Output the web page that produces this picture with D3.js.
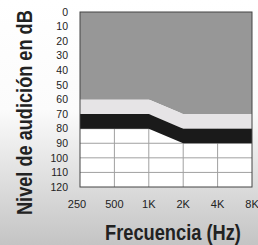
<!DOCTYPE html>
<html>
<head>
<meta charset="utf-8">
<script src="https://cdn.jsdelivr.net/npm/d3@7"></script>
<style>
  body { margin: 0; padding: 0; }
  svg { display: block; }
</style>
</head>
<body>
<script>
// audiogram bands
var freqs = ["250", "500", "1K", "2K", "4K", "8K"];
var dbTicks = [0, 10, 20, 30, 40, 50, 60, 70, 80, 90, 100, 110, 120];
var lightTop = [60, 60, 60, 70, 70, 70];
var blackTop = [70, 70, 70, 80, 80, 80];
var blackBottom = [80, 80, 80, 90, 90, 90];

var w = 258, h = 245;

var svg = d3.select("body").append("svg")
            .attr("width", w)
            .attr("height", h);

var grad = svg.append("defs").append("linearGradient")
              .attr("id", "bg")
              .attr("x1", 0).attr("y1", 0)
              .attr("x2", 0).attr("y2", 1);
grad.append("stop").attr("offset", "0%").attr("stop-color", "#ffffff");
grad.append("stop").attr("offset", "45%").attr("stop-color", "#fbfbfb");
grad.append("stop").attr("offset", "100%").attr("stop-color", "#c4c4c4");

svg.append("rect")
   .attr("width", w).attr("height", h)
   .attr("fill", "url(#bg)");

var x = d3.scalePoint().domain(freqs).range([80, 252]);
var y = d3.scaleLinear().domain([0, 120]).range([12, 187]);

var pts = freqs.map(function(f, i) { return i; });

// white plot background
svg.append("rect")
   .attr("x", x("250")).attr("y", y(0))
   .attr("width", x("8K") - x("250"))
   .attr("height", y(120) - y(0))
   .attr("fill", "#ffffff");

// grid
svg.append("g").selectAll("line.v")
   .data(freqs.slice(1, -1))
   .enter().append("line")
   .attr("x1", function(d) { return x(d); })
   .attr("x2", function(d) { return x(d); })
   .attr("y1", y(0)).attr("y2", y(120))
   .attr("stroke", "#a0a0a0").attr("stroke-width", 1);

svg.append("g").selectAll("line.h")
   .data(dbTicks.slice(1, -1))
   .enter().append("line")
   .attr("x1", x("250")).attr("x2", x("8K"))
   .attr("y1", function(d) { return y(d); })
   .attr("y2", function(d) { return y(d); })
   .attr("stroke", "#a0a0a0").attr("stroke-width", 1);

function band(top, bottom, color) {
  var area = d3.area()
      .x(function(i) { return x(freqs[i]); })
      .y0(function(i) { return y(bottom[i]); })
      .y1(function(i) { return y(top[i]); });
  svg.append("path")
     .datum(pts)
     .attr("d", area)
     .attr("fill", color);
}

var zeros = freqs.map(function() { return 0; });
band(zeros, lightTop, "#979797");
band(lightTop, blackTop, "#e6e4e6");
band(blackTop, blackBottom, "#1a1a1a");

// border
svg.append("rect")
   .attr("x", x("250")).attr("y", y(0))
   .attr("width", x("8K") - x("250"))
   .attr("height", y(120) - y(0))
   .attr("fill", "none")
   .attr("stroke", "#444").attr("stroke-width", 1);

// tick labels
svg.append("g").selectAll("text")
   .data(dbTicks)
   .enter().append("text")
   .attr("x", 68)
   .attr("y", function(d) { return y(d); })
   .attr("dy", "0.35em")
   .attr("text-anchor", "end")
   .attr("font-family", "Liberation Sans, Arial, sans-serif")
   .attr("font-size", 10.5)
   .attr("fill", "#222")
   .text(function(d) { return d; });

svg.append("g").selectAll("text")
   .data(freqs)
   .enter().append("text")
   .attr("x", function(d) { return x(d) - (d == "250" ? 3 : 0); })
   .attr("y", 208)
   .attr("text-anchor", "middle")
   .attr("font-family", "Liberation Sans, Arial, sans-serif")
   .attr("font-size", 11)
   .attr("fill", "#222")
   .text(function(d) { return d; });

// titles, squeezed to look condensed
function title(txt, len, place) {
  var t = svg.append("text")
     .attr("font-family", "Liberation Sans, Arial, sans-serif")
     .attr("font-weight", "bold")
     .attr("font-size", 22)
     .attr("fill", "#222")
     .text(txt);
  var k = len / t.node().getComputedTextLength();
  t.attr("transform", place + " scale(" + k + ",1)");
}

title("Frecuencia (Hz)", 136, "translate(105,240)");
title("Nivel de audición en dB", 205, "translate(32,215) rotate(-90)");
</script>
</body>
</html>
